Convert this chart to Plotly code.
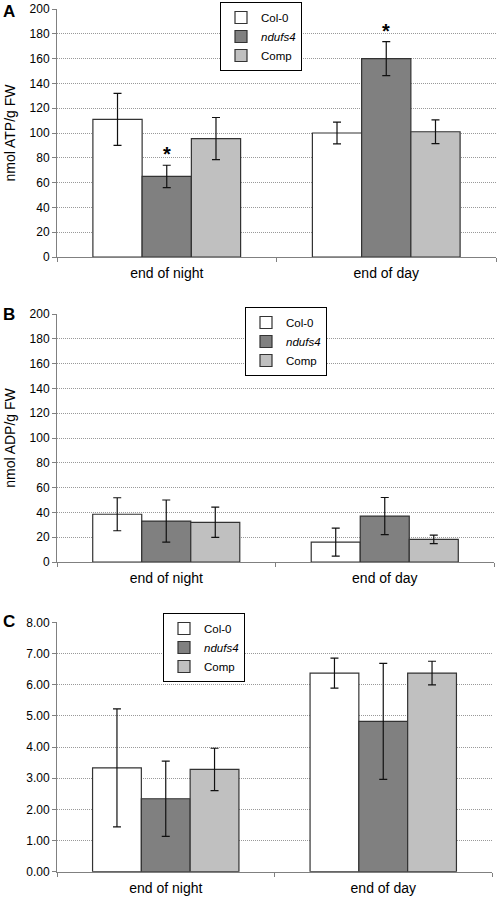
import plotly.graph_objects as go

W, H = 498, 897

categories = ["end of night", "end of day"]
series_names = ["Col-0", "<i>ndufs4</i>", "Comp"]
fill_colors = ["#FFFFFF", "#808080", "#C0C0C0"]

# Panel A: ATP (nmol/g FW)
atp_col0 = [111, 100]
atp_ndufs4 = [65, 160]
atp_comp = [95.5, 101]
atp_col0_err = [21, 8.7]
atp_ndufs4_err = [9, 13.7]
atp_comp_err = [17, 9.6]

# Panel B: ADP (nmol/g FW)
adp_col0 = [38.5, 16]
adp_ndufs4 = [33, 37]
adp_comp = [32, 18.2]
adp_col0_err = [13.3, 11.3]
adp_ndufs4_err = [17, 15]
adp_comp_err = [12.2, 3.4]

# Panel C: ATP/ADP ratio
ratio_col0 = [3.33, 6.37]
ratio_ndufs4 = [2.34, 4.82]
ratio_comp = [3.28, 6.37]
ratio_col0_err = [1.89, 0.48]
ratio_ndufs4_err = [1.21, 1.86]
ratio_comp_err = [0.68, 0.38]

y_ticks_ab = [0, 20, 40, 60, 80, 100, 120, 140, 160, 180, 200]
y_ticks_c = [0, 1, 2, 3, 4, 5, 6, 7, 8]

FONT = "Arial, Liberation Sans, sans-serif"


def px_x(v):
    return min(1.0, max(0.0, v / W))


def px_y(v):
    return min(1.0, max(0.0, 1 - v / H))


def xd(l, r):
    return [px_x(l), px_x(r)]


def yd(top, bottom):
    return [px_y(bottom), px_y(top)]


fig = go.Figure()

panels = [
    dict(vals=[atp_col0, atp_ndufs4, atp_comp], errs=[atp_col0_err, atp_ndufs4_err, atp_comp_err],
         x="x", y="y", legend="legend"),
    dict(vals=[adp_col0, adp_ndufs4, adp_comp], errs=[adp_col0_err, adp_ndufs4_err, adp_comp_err],
         x="x2", y="y2", legend="legend2"),
    dict(vals=[ratio_col0, ratio_ndufs4, ratio_comp], errs=[ratio_col0_err, ratio_ndufs4_err, ratio_comp_err],
         x="x3", y="y3", legend="legend3"),
]

for p in panels:
    for i in range(3):
        fig.add_trace(go.Bar(
            x=categories, y=p["vals"][i], name=series_names[i],
            marker=dict(color=fill_colors[i], line=dict(color="#333333", width=1.2)),
            error_y=dict(type="data", array=p["errs"][i], visible=True,
                         color="#111111", thickness=1.2, width=4),
            xaxis=p["x"], yaxis=p["y"], legend=p["legend"], showlegend=True,
        ))

# asterisks over ndufs4 bars in panel A
annotations = []
for k, cat in enumerate(categories):
    top = atp_ndufs4[k] + atp_ndufs4_err[k]
    annotations.append(dict(x=cat, y=top, xref="x", yref="y", text="<b>*</b>",
                            showarrow=False, yanchor="bottom", yshift=-2,
                            font=dict(family=FONT, size=20, color="#000")))

# panel letters
for letter, ypx in [("A", 12), ("B", 314), ("C", 621)]:
    annotations.append(dict(x=px_x(9), y=px_y(ypx), xref="paper", yref="paper", text="<b>" + letter + "</b>",
                            showarrow=False, xanchor="center", yanchor="middle",
                            font=dict(family=FONT, size=17, color="#000")))

grid = dict(showgrid=True, gridcolor="#999999", griddash="1px,1px", gridwidth=1,
            showline=True, linecolor="#808080", linewidth=1, ticks="outside",
            ticklen=4, tickcolor="#808080", zeroline=False,
            tickfont=dict(family=FONT, size=12, color="#000"), automargin=False)
xcommon = dict(showline=True, linecolor="#808080", linewidth=1, ticks="outside",
               tickson="boundaries", ticklen=4, tickcolor="#808080",
               tickfont=dict(family=FONT, size=14, color="#000"), automargin=False,
               ticklabelstandoff=3, showgrid=False)

legend_common = dict(bgcolor="#FFFFFF", bordercolor="#000000", borderwidth=1,
                     font=dict(family=FONT, size=11.5, color="#000"),
                     xanchor="left", yanchor="top", tracegroupgap=0,
                     itemwidth=30, itemclick=False)

fig.update_layout(
    width=W, height=H,
    margin=dict(l=0, r=0, t=0, b=0),
    paper_bgcolor="#FFFFFF", plot_bgcolor="#FFFFFF",
    barmode="group", bargap=0.327, bargroupgap=0,
    font=dict(family=FONT, color="#000"),
    hovermode=False,
    xaxis=dict(domain=xd(57, 496), anchor="y", **xcommon),
    yaxis=dict(domain=yd(9, 257), anchor="x", range=[0, 200], tickvals=y_ticks_ab,
               title=dict(text="nmol ATP/g FW", font=dict(family=FONT, size=14), standoff=10), **grid),
    xaxis2=dict(domain=xd(57, 494), anchor="y2", **xcommon),
    yaxis2=dict(domain=yd(314, 562), anchor="x2", range=[0, 200], tickvals=y_ticks_ab,
                title=dict(text="nmol ADP/g FW", font=dict(family=FONT, size=14), standoff=10), **grid),
    xaxis3=dict(domain=xd(57, 492), anchor="y3", **xcommon),
    yaxis3=dict(domain=yd(622.3, 871.7), anchor="x3", range=[0, 8], tickvals=y_ticks_c,
                tickformat=".2f", **grid),
    legend=dict(x=px_x(220), y=px_y(2), **legend_common),
    legend2=dict(x=px_x(245), y=px_y(307), **legend_common),
    legend3=dict(x=px_x(163), y=px_y(613), **legend_common),
    annotations=annotations,
)

# remove the default 8px page margin so the 498x897 figure fills the window exactly
fig.write_html("out.html",
               config={"displayModeBar": False, "staticPlot": True},
               post_script="document.body.style.margin='0';document.body.style.overflow='hidden';")
